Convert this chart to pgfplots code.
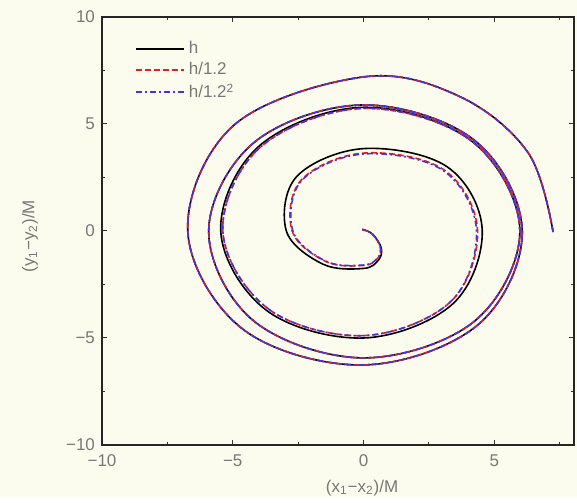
\documentclass[border=0pt]{standalone}
\usepackage{fontspec}
\setmainfont{Liberation Sans}
\usepackage{pgfplots}
\pgfplotsset{compat=1.18}
\usetikzlibrary{backgrounds}
\definecolor{bg}{RGB}{252,252,238}
\definecolor{txt}{RGB}{120,120,120}
\definecolor{lred}{RGB}{230,30,30}
\definecolor{lblue}{RGB}{70,50,225}

\begin{document}
\begin{tikzpicture}
\begin{axis}[
    scale only axis,
    width=236pt, height=214pt,
    xmin=-10, xmax=8.05, ymin=-10, ymax=10,
    xtick={-10,-5,0,5}, xticklabels={−10,−5,0,5},
    ytick={-10,-5,0,5,10}, yticklabels={−10,−5,0,5,10},
    minor xtick={-7.5,-2.5,2.5,7.5},
    minor ytick={-7.5,-2.5,2.5,7.5},
    tick align=inside,
    major tick length=2.5pt, minor tick length=1.5pt,
    tick style={black!80, line width=0.5pt},
    axis line style={black!85, line width=0.9pt},
    tick label style={font=\fontsize{8.5}{10}\selectfont, text=txt},
    xticklabel style={yshift=-1.5pt},
    xlabel={(x\textsubscript{1}−x\textsubscript{2})/M},
    ylabel={(y\textsubscript{1}−y\textsubscript{2})/M},
    every axis x label/.style={at={(rel axis cs:0.551,-0.1)}, anchor=center,
        font=\fontsize{8.5}{10}\selectfont, text=txt},
    every axis y label/.style={at={(rel axis cs:-0.1525,0.488)}, anchor=center,
        rotate=90, font=\fontsize{8.5}{10}\selectfont, text=txt},
    legend style={at={(rel axis cs:0.056,0.963)}, anchor=north west,
        draw=none, fill=none, font=\fontsize{8.5}{8.5}\selectfont,
        row sep=-1pt},
    legend cell align=left,
    legend image code/.code={\draw[#1, line width=1pt] (0pt,0pt) -- (24pt,0pt);},
    every axis plot/.append style={line width=0.8pt, smooth, tension=0.6},
]
% black: h
\addplot[black] coordinates {
(7.25,-0.05) (6.3,3.65) (3.65,6.3) (0,7.2)
(-4.95,4.95) (-6.72,0) (-4.6,-4.6) (0,-6.26) (4.38,-4.38)
(6.07,0) (4.24,4.24) (0,5.89) (-4.16,4.16) (-5.92,0)
(-4.2,-4.2) (0,-5.93) (4.23,-4.23) (5.98,0) (4.17,4.17)
(0,5.78) (-3.98,3.98) (-5.46,0) (-3.71,-3.71) (0,-5.0)
(3.41,-3.41) (4.54,0.05) (3.2,3.0) (0,3.85) (-2.55,2.55)
(-2.95,0) (-1.55,-1.55) (0,-1.75) (0.57,-1.36) (0.68,-0.8)
(0.35,-0.15) (-0.05,0.08)
};
\addlegendentry{\textcolor{txt}{h}}
% red: h/1.2
\addplot[color=lred, dash pattern=on 3pt off 1.5pt] coordinates {
(7.25,-0.05) (6.3,3.65) (3.65,6.3) (0,7.2)
(-4.95,4.95) (-6.72,0) (-4.6,-4.6) (0,-6.26) (4.38,-4.38)
(6.07,0) (4.24,4.24) (0,5.89) (-4.16,4.16) (-5.92,0)
(-4.2,-4.2) (0,-5.93) (4.23,-4.23) (5.98,0) (4.17,4.17)
(0,5.73) (-3.93,3.93) (-5.38,0) (-3.64,-3.64) (0,-4.89)
(3.32,-3.32) (4.36,0.05) (3.06,2.87) (0,3.64) (-2.38,2.38)
(-2.73,0) (-1.43,-1.43) (0,-1.61) (0.54,-1.28) (0.65,-0.76)
(0.33,-0.14) (-0.05,0.07)
};
\addlegendentry{\textcolor{txt}{h/1.2}}
% blue: h/1.2^2
\addplot[color=lblue, dash pattern=on 3pt off 1.5pt on 1pt off 1.5pt] coordinates {
(7.25,-0.05) (6.3,3.65) (3.65,6.3) (0,7.2)
(-4.95,4.95) (-6.72,0) (-4.6,-4.6) (0,-6.26) (4.38,-4.38)
(6.07,0) (4.24,4.24) (0,5.89) (-4.16,4.16) (-5.92,0)
(-4.2,-4.2) (0,-5.93) (4.23,-4.23) (5.98,0) (4.17,4.17)
(0,5.73) (-3.93,3.93) (-5.38,0) (-3.64,-3.64) (0,-4.89)
(3.32,-3.32) (4.32,0.05) (3.03,2.84) (0,3.6) (-2.36,2.36)
(-2.7,0) (-1.42,-1.42) (0,-1.59) (0.53,-1.27) (0.64,-0.75)
(0.33,-0.14) (-0.05,0.07)
};
\addlegendentry{\textcolor{txt}{h/1.2\textsuperscript{2}}}
\coordinate (ll) at (rel axis cs:0,0);
\coordinate (ur) at (rel axis cs:1,1);
\end{axis}
\begin{scope}[on background layer]
\fill[bg] ([shift={(-51pt,-26pt)}]ll) rectangle ([shift={(1.5pt,8.5pt)}]ur);
\end{scope}
\path[use as bounding box] ([shift={(-51pt,-26pt)}]ll) rectangle ([shift={(1.5pt,8.5pt)}]ur);
\end{tikzpicture}
\end{document}
